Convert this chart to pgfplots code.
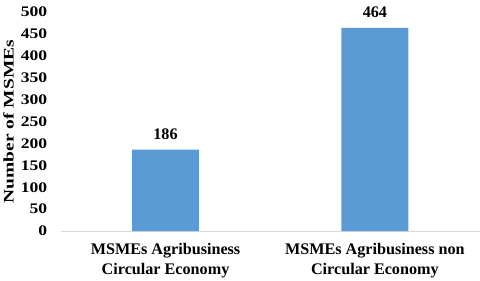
\documentclass[border=0pt]{standalone}
\usepackage{graphicx}
\usepackage{pgfplots}
\pgfplotsset{compat=1.18}
\usepackage{fontspec}
\setmainfont{Liberation Serif}
\newfontfamily\tickfont{Liberation Serif}[FakeStretch=1.2]
\definecolor{barblue}{HTML}{5B9BD5}
\begin{document}
\begin{tikzpicture}[font=\bfseries]
\begin{axis}[
  scale only axis, width=413bp, height=216bp,
  ymin=0, ymax=500, ytick={0,50,...,500},
  xmin=-0.5, xmax=1.5, xtick={0,1},
  xticklabels={{MSMEs Agribusiness\\Circular Economy},{MSMEs Agribusiness non\\Circular Economy}},
  xticklabel style={align=center, font=\fontsize{16}{19}\selectfont\bfseries, yshift=-9bp},
  yticklabel style={font=\fontsize{14.5}{16}\selectfont\tickfont\bfseries, xshift=-10bp, inner ysep=7bp},
  /pgf/number format/assume math mode=true,
  axis lines*=left,
  x axis line style={draw=black!15, line width=0.9pt},
  y axis line style={draw=none},
  major tick length=0pt,
  ylabel={\scalebox{1.33}[1]{Number of MSMEs}},
  ylabel style={font=\fontsize{14.5}{16}\selectfont\bfseries},
  nodes near coords,
  nodes near coords style={font=\fontsize{16}{18}\selectfont\bfseries, yshift=6bp},
  clip=false,
]
\addplot[ybar, bar width=66bp, fill=barblue, draw=none] coordinates {(0,186) (1,464)};
\end{axis}
\end{tikzpicture}
\end{document}
